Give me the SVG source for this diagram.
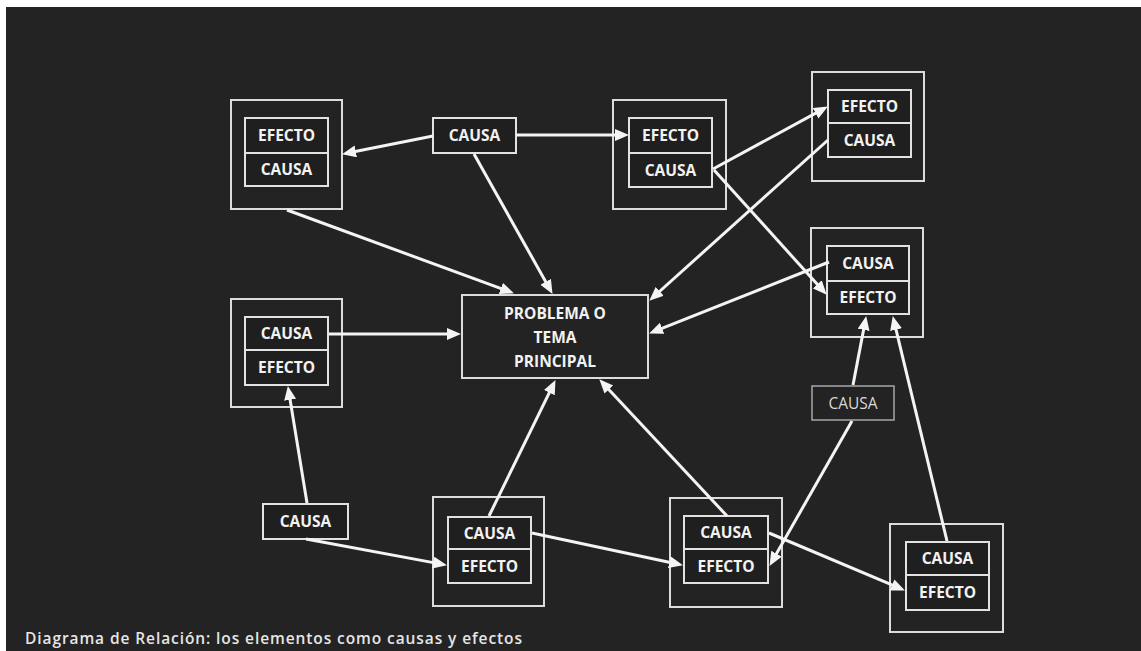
<svg xmlns="http://www.w3.org/2000/svg" width="1141" height="651" viewBox="0 0 1141 651">
  <defs>
    <style>
      .bg { fill: #232323; }
      .outer { fill: #232323; stroke: #dcdcdc; stroke-width: 2; }
      .inner { fill: #1f1f1f; stroke: #e2e2e2; stroke-width: 2; }
      .div { stroke: #e2e2e2; stroke-width: 2; }
      .lbl { font-family: "Open Sans", "Liberation Sans", sans-serif; font-weight: 700; font-size: 15.5px; fill: #f2f2f2; text-anchor: middle; }
      .lbl-dim { font-family: "Open Sans", "Liberation Sans", sans-serif; font-weight: 400; font-size: 15.5px; fill: #d8d8d8; text-anchor: middle; }
      .dim { fill: #232323; stroke: #a8a8a8; stroke-width: 1.5; }
      .caption { font-family: "Open Sans", "Liberation Sans", sans-serif; font-weight: 600; font-size: 15.5px; fill: #e6e6e6; }
      .edge { stroke: #f4f4f4; stroke-width: 3; fill: none; marker-end: url(#arrow); }
    </style>
    <marker id="arrow" markerUnits="userSpaceOnUse" markerWidth="15" markerHeight="13" refX="7" refY="6" orient="auto">
      <path d="M0,0 L14,6 L0,12 z" fill="#f4f4f4"/>
    </marker>
  </defs>

  <!-- page -->
  <rect x="0" y="0" width="1141" height="651" fill="#ffffff"/>
  <rect class="bg" x="6" y="7" width="1135" height="644"/>

  <!-- central topic -->
  <g id="center">
    <rect class="outer" x="462" y="295" width="186" height="83"/>
    <text class="lbl" x="555" y="319">PROBLEMA O</text>
    <text class="lbl" x="555" y="343">TEMA</text>
    <text class="lbl" x="555" y="367">PRINCIPAL</text>
  </g>

  <!-- paired nodes: outer frame, two-cell inner box -->
  <g id="node-a">
    <rect class="outer" x="231" y="100" width="111" height="109"/>
    <rect class="inner" x="245" y="118" width="83" height="68"/>
    <line class="div" x1="245" y1="153" x2="328" y2="153"/>
    <text class="lbl" x="286.5" y="141">EFECTO</text>
    <text class="lbl" x="286.5" y="175">CAUSA</text>
  </g>

  <g id="node-b">
    <rect class="outer" x="613" y="100" width="113" height="109"/>
    <rect class="inner" x="629" y="118" width="83" height="69"/>
    <line class="div" x1="629" y1="153" x2="712" y2="153"/>
    <text class="lbl" x="670.5" y="141">EFECTO</text>
    <text class="lbl" x="670.5" y="176">CAUSA</text>
  </g>

  <g id="node-c">
    <rect class="outer" x="812" y="72" width="112" height="109"/>
    <rect class="inner" x="828" y="90" width="83" height="67"/>
    <line class="div" x1="828" y1="123" x2="911" y2="123"/>
    <text class="lbl" x="869.5" y="112">EFECTO</text>
    <text class="lbl" x="869.5" y="146">CAUSA</text>
  </g>

  <g id="node-d">
    <rect class="outer" x="811" y="228" width="112" height="109"/>
    <rect class="inner" x="827" y="246" width="82" height="68"/>
    <line class="div" x1="827" y1="281" x2="909" y2="281"/>
    <text class="lbl" x="868" y="269">CAUSA</text>
    <text class="lbl" x="868" y="303">EFECTO</text>
  </g>

  <g id="node-e">
    <rect class="outer" x="231" y="299" width="111" height="108"/>
    <rect class="inner" x="245" y="317" width="83" height="68"/>
    <line class="div" x1="245" y1="350" x2="328" y2="350"/>
    <text class="lbl" x="286.5" y="339">CAUSA</text>
    <text class="lbl" x="286.5" y="373">EFECTO</text>
  </g>

  <g id="node-f">
    <rect class="outer" x="433" y="497" width="111" height="109"/>
    <rect class="inner" x="448" y="517" width="83" height="66"/>
    <line class="div" x1="448" y1="549" x2="531" y2="549"/>
    <text class="lbl" x="489.5" y="539">CAUSA</text>
    <text class="lbl" x="489.5" y="572">EFECTO</text>
  </g>

  <g id="node-g">
    <rect class="outer" x="670" y="498" width="112" height="109"/>
    <rect class="inner" x="684" y="516" width="84" height="67"/>
    <line class="div" x1="684" y1="549" x2="768" y2="549"/>
    <text class="lbl" x="726" y="538">CAUSA</text>
    <text class="lbl" x="726" y="572">EFECTO</text>
  </g>

  <g id="node-h">
    <rect class="outer" x="890" y="524" width="113" height="108"/>
    <rect class="inner" x="906" y="542" width="83" height="68"/>
    <line class="div" x1="906" y1="575" x2="989" y2="575"/>
    <text class="lbl" x="947.5" y="564">CAUSA</text>
    <text class="lbl" x="947.5" y="598">EFECTO</text>
  </g>

  <!-- single cause boxes -->
  <g id="cause-top">
    <rect class="inner" x="433" y="118" width="83" height="35"/>
    <text class="lbl" x="474.5" y="141">CAUSA</text>
  </g>

  <g id="cause-right">
    <rect class="dim" x="812" y="386" width="82" height="34"/>
    <text class="lbl-dim" x="853" y="409">CAUSA</text>
  </g>

  <g id="cause-left">
    <rect class="inner" x="263" y="504" width="85" height="35"/>
    <text class="lbl" x="305.5" y="527">CAUSA</text>
  </g>

  <!-- connectors -->
  <g id="connectors">
    <line class="edge" x1="433" y1="136" x2="348.9" y2="152.8"/>
    <line class="edge" x1="516" y1="135" x2="622" y2="135"/>
    <line class="edge" x1="474" y1="154" x2="549.1" y2="287.8"/>
    <line class="edge" x1="287" y1="210" x2="507.4" y2="290.9"/>
    <line class="edge" x1="329" y1="334" x2="454" y2="334"/>
    <line class="edge" x1="307" y1="503" x2="289" y2="392.9"/>
    <line class="edge" x1="306" y1="539" x2="440.1" y2="563.9"/>
    <line class="edge" x1="489" y1="516" x2="552.4" y2="386.4"/>
    <line class="edge" x1="727" y1="516" x2="604.1" y2="384.4"/>
    <line class="edge" x1="532" y1="533" x2="676.1" y2="563.7"/>
    <line class="edge" x1="769" y1="533" x2="898.5" y2="587.7"/>
    <line class="edge" x1="852" y1="421" x2="773" y2="559.8"/>
    <line class="edge" x1="853" y1="385" x2="864.9" y2="322.9"/>
    <line class="edge" x1="947" y1="541" x2="894.4" y2="322.8"/>
    <line class="edge" x1="713" y1="169" x2="821.7" y2="109.9"/>
    <line class="edge" x1="828" y1="140" x2="654.5" y2="296"/>
    <line class="edge" x1="714" y1="170" x2="822" y2="289.5"/>
    <line class="edge" x1="829" y1="262" x2="655.6" y2="330.8"/>
  </g>

  <text class="caption" x="25" y="644" textLength="497" lengthAdjust="spacing">Diagrama de Relación: los elementos como causas y efectos</text>
</svg>
